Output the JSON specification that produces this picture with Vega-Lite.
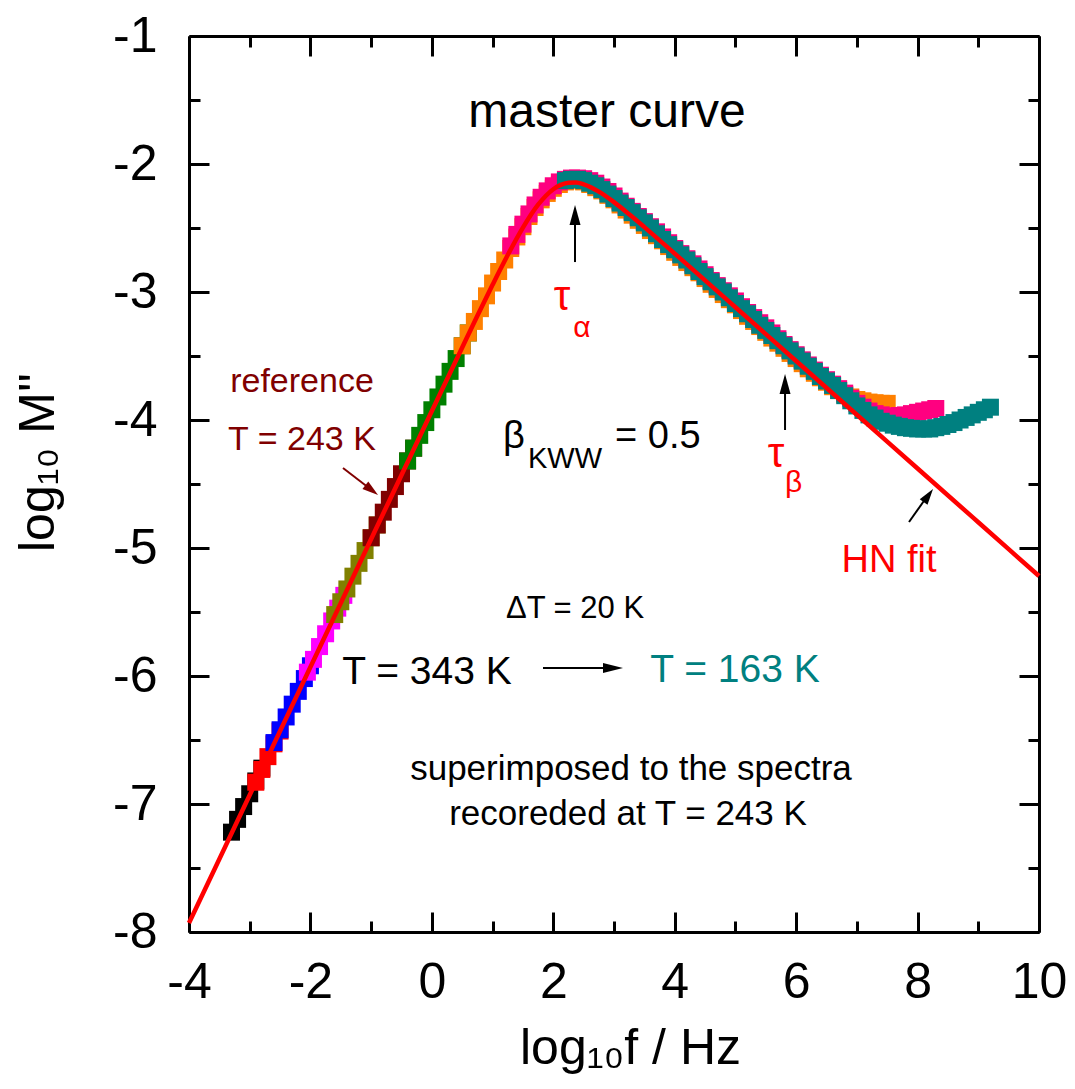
{
  "$schema": "https://vega.github.io/schema/vega-lite/v6.json",
  "width": 850,
  "height": 896,
  "autosize": {"type": "none"},
  "padding": {"left": 189, "top": 36, "right": 36, "bottom": 157},
  "background": "white",
  "config": {
    "view": {"stroke": null},
    "font": "Liberation Sans",
    "axis": {
      "domainColor": "black", "domainWidth": 3, "tickColor": "black", "tickWidth": 3,
      "grid": false, "labelFont": "Liberation Sans", "labelFontSize": 50, "labelColor": "black",
      "titleFont": "Liberation Sans", "titleFontSize": 50, "titleFontWeight": "normal", "titleColor": "black",
      "labelFlush": false, "labelOverlap": false
    }
  },
  "datasets": {
    "pts": [
      {"x": -3.3, "y": -7.22, "T": "343 K"}, {"x": -3.2, "y": -7.12, "T": "343 K"}, {"x": -3.1, "y": -7.02, "T": "343 K"}, {"x": -3.0, "y": -6.92, "T": "343 K"}, {"x": -2.9, "y": -6.82, "T": "343 K"}, {"x": -2.8, "y": -6.72, "T": "343 K"},
      {"x": -2.9, "y": -6.83, "T": "323 K"}, {"x": -2.8, "y": -6.73, "T": "323 K"}, {"x": -2.7, "y": -6.63, "T": "323 K"}, {"x": -2.6, "y": -6.53, "T": "323 K"}, {"x": -2.5, "y": -6.43, "T": "323 K"},
      {"x": -2.6, "y": -6.52, "T": "303 K"}, {"x": -2.5, "y": -6.42, "T": "303 K"}, {"x": -2.4, "y": -6.32, "T": "303 K"}, {"x": -2.3, "y": -6.22, "T": "303 K"}, {"x": -2.2, "y": -6.12, "T": "303 K"}, {"x": -2.1, "y": -6.02, "T": "303 K"}, {"x": -2.0, "y": -5.92, "T": "303 K"},
      {"x": -2.05, "y": -5.97, "T": "283 K"}, {"x": -1.95, "y": -5.87, "T": "283 K"}, {"x": -1.85, "y": -5.77, "T": "283 K"}, {"x": -1.75, "y": -5.67, "T": "283 K"}, {"x": -1.65, "y": -5.57, "T": "283 K"}, {"x": -1.55, "y": -5.47, "T": "283 K"}, {"x": -1.45, "y": -5.37, "T": "283 K"},
      {"x": -1.6, "y": -5.52, "T": "263 K"}, {"x": -1.5, "y": -5.42, "T": "263 K"}, {"x": -1.4, "y": -5.32, "T": "263 K"}, {"x": -1.3, "y": -5.22, "T": "263 K"}, {"x": -1.2, "y": -5.12, "T": "263 K"}, {"x": -1.1, "y": -5.02, "T": "263 K"}, {"x": -1.0, "y": -4.92, "T": "263 K"}, {"x": -0.9, "y": -4.82, "T": "263 K"},
      {"x": -1.0, "y": -4.92, "T": "243 K"}, {"x": -0.9, "y": -4.82, "T": "243 K"}, {"x": -0.8, "y": -4.72, "T": "243 K"}, {"x": -0.7, "y": -4.62, "T": "243 K"}, {"x": -0.6, "y": -4.52, "T": "243 K"}, {"x": -0.5, "y": -4.42, "T": "243 K"}, {"x": -0.4, "y": -4.32, "T": "243 K"}, {"x": -0.3, "y": -4.22, "T": "243 K"},
      {"x": -0.4, "y": -4.32, "T": "223 K"}, {"x": -0.3, "y": -4.22, "T": "223 K"}, {"x": -0.2, "y": -4.12, "T": "223 K"}, {"x": -0.1, "y": -4.02, "T": "223 K"}, {"x": 0.0, "y": -3.92, "T": "223 K"}, {"x": 0.1, "y": -3.82, "T": "223 K"}, {"x": 0.2, "y": -3.72, "T": "223 K"}, {"x": 0.3, "y": -3.62, "T": "223 K"}, {"x": 0.4, "y": -3.52, "T": "223 K"}, {"x": 0.5, "y": -3.42, "T": "223 K"}, {"x": 0.6, "y": -3.32, "T": "223 K"},
      {"x": 0.5, "y": -3.42, "T": "203 K"}, {"x": 0.6, "y": -3.32, "T": "203 K"}, {"x": 0.7, "y": -3.23, "T": "203 K"}, {"x": 0.8, "y": -3.13, "T": "203 K"}, {"x": 0.9, "y": -3.03, "T": "203 K"}, {"x": 1.0, "y": -2.93, "T": "203 K"}, {"x": 1.1, "y": -2.84, "T": "203 K"}, {"x": 1.2, "y": -2.75, "T": "203 K"}, {"x": 1.3, "y": -2.66, "T": "203 K"}, {"x": 1.4, "y": -2.57, "T": "203 K"}, {"x": 1.5, "y": -2.49, "T": "203 K"}, {"x": 1.6, "y": -2.41, "T": "203 K"}, {"x": 1.7, "y": -2.34, "T": "203 K"}, {"x": 1.8, "y": -2.28, "T": "203 K"}, {"x": 1.9, "y": -2.23, "T": "203 K"}, {"x": 2.0, "y": -2.19, "T": "203 K"}, {"x": 2.1, "y": -2.16, "T": "203 K"}, {"x": 2.2, "y": -2.14, "T": "203 K"}, {"x": 2.3, "y": -2.13, "T": "203 K"}, {"x": 2.4, "y": -2.13, "T": "203 K"},
      {"x": 2.5, "y": -2.14, "T": "203 K"}, {"x": 2.6, "y": -2.16, "T": "203 K"}, {"x": 2.7, "y": -2.185, "T": "203 K"}, {"x": 2.8, "y": -2.21, "T": "203 K"}, {"x": 2.9, "y": -2.245, "T": "203 K"}, {"x": 3.0, "y": -2.28, "T": "203 K"}, {"x": 3.1, "y": -2.32, "T": "203 K"}, {"x": 3.2, "y": -2.36, "T": "203 K"}, {"x": 3.3, "y": -2.40, "T": "203 K"}, {"x": 3.4, "y": -2.44, "T": "203 K"}, {"x": 3.5, "y": -2.48, "T": "203 K"}, {"x": 3.6, "y": -2.52, "T": "203 K"}, {"x": 3.7, "y": -2.56, "T": "203 K"}, {"x": 3.8, "y": -2.60, "T": "203 K"}, {"x": 3.9, "y": -2.645, "T": "203 K"}, {"x": 4.0, "y": -2.69, "T": "203 K"}, {"x": 4.1, "y": -2.73, "T": "203 K"}, {"x": 4.2, "y": -2.77, "T": "203 K"}, {"x": 4.3, "y": -2.81, "T": "203 K"}, {"x": 4.4, "y": -2.85, "T": "203 K"}, {"x": 4.5, "y": -2.895, "T": "203 K"}, {"x": 4.6, "y": -2.94, "T": "203 K"}, {"x": 4.7, "y": -2.98, "T": "203 K"}, {"x": 4.8, "y": -3.02, "T": "203 K"}, {"x": 4.9, "y": -3.06, "T": "203 K"}, {"x": 5.0, "y": -3.10, "T": "203 K"}, {"x": 5.1, "y": -3.145, "T": "203 K"}, {"x": 5.2, "y": -3.19, "T": "203 K"}, {"x": 5.3, "y": -3.23, "T": "203 K"}, {"x": 5.4, "y": -3.27, "T": "203 K"}, {"x": 5.5, "y": -3.315, "T": "203 K"}, {"x": 5.6, "y": -3.36, "T": "203 K"}, {"x": 5.7, "y": -3.40, "T": "203 K"}, {"x": 5.8, "y": -3.44, "T": "203 K"}, {"x": 5.9, "y": -3.48, "T": "203 K"}, {"x": 6.0, "y": -3.52, "T": "203 K"}, {"x": 6.1, "y": -3.56, "T": "203 K"}, {"x": 6.2, "y": -3.60, "T": "203 K"}, {"x": 6.3, "y": -3.635, "T": "203 K"}, {"x": 6.4, "y": -3.67, "T": "203 K"}, {"x": 6.5, "y": -3.705, "T": "203 K"}, {"x": 6.6, "y": -3.74, "T": "203 K"}, {"x": 6.7, "y": -3.77, "T": "203 K"}, {"x": 6.8, "y": -3.80, "T": "203 K"}, {"x": 6.9, "y": -3.82, "T": "203 K"}, {"x": 7.0, "y": -3.84, "T": "203 K"}, {"x": 7.1, "y": -3.85, "T": "203 K"}, {"x": 7.2, "y": -3.86, "T": "203 K"}, {"x": 7.3, "y": -3.865, "T": "203 K"}, {"x": 7.4, "y": -3.87, "T": "203 K"}, {"x": 7.5, "y": -3.87, "T": "203 K"},
      {"x": 1.3, "y": -2.64, "T": "183 K"}, {"x": 1.4, "y": -2.55, "T": "183 K"}, {"x": 1.5, "y": -2.47, "T": "183 K"}, {"x": 1.6, "y": -2.39, "T": "183 K"}, {"x": 1.7, "y": -2.32, "T": "183 K"}, {"x": 1.8, "y": -2.26, "T": "183 K"}, {"x": 1.9, "y": -2.21, "T": "183 K"}, {"x": 2.0, "y": -2.17, "T": "183 K"}, {"x": 2.1, "y": -2.14, "T": "183 K"}, {"x": 2.2, "y": -2.12, "T": "183 K"}, {"x": 2.3, "y": -2.11, "T": "183 K"}, {"x": 2.4, "y": -2.11, "T": "183 K"},
      {"x": 2.5, "y": -2.115, "T": "183 K"}, {"x": 2.6, "y": -2.13, "T": "183 K"}, {"x": 2.7, "y": -2.15, "T": "183 K"}, {"x": 2.8, "y": -2.18, "T": "183 K"}, {"x": 2.9, "y": -2.215, "T": "183 K"}, {"x": 3.0, "y": -2.25, "T": "183 K"}, {"x": 3.1, "y": -2.29, "T": "183 K"}, {"x": 3.2, "y": -2.33, "T": "183 K"}, {"x": 3.3, "y": -2.37, "T": "183 K"}, {"x": 3.4, "y": -2.41, "T": "183 K"}, {"x": 3.5, "y": -2.45, "T": "183 K"}, {"x": 3.6, "y": -2.49, "T": "183 K"}, {"x": 3.7, "y": -2.53, "T": "183 K"}, {"x": 3.8, "y": -2.57, "T": "183 K"}, {"x": 3.9, "y": -2.615, "T": "183 K"}, {"x": 4.0, "y": -2.66, "T": "183 K"}, {"x": 4.1, "y": -2.70, "T": "183 K"}, {"x": 4.2, "y": -2.74, "T": "183 K"}, {"x": 4.3, "y": -2.78, "T": "183 K"}, {"x": 4.4, "y": -2.82, "T": "183 K"}, {"x": 4.5, "y": -2.865, "T": "183 K"}, {"x": 4.6, "y": -2.91, "T": "183 K"}, {"x": 4.7, "y": -2.95, "T": "183 K"}, {"x": 4.8, "y": -2.99, "T": "183 K"}, {"x": 4.9, "y": -3.03, "T": "183 K"}, {"x": 5.0, "y": -3.07, "T": "183 K"}, {"x": 5.1, "y": -3.115, "T": "183 K"}, {"x": 5.2, "y": -3.16, "T": "183 K"}, {"x": 5.3, "y": -3.20, "T": "183 K"}, {"x": 5.4, "y": -3.24, "T": "183 K"}, {"x": 5.5, "y": -3.28, "T": "183 K"}, {"x": 5.6, "y": -3.32, "T": "183 K"}, {"x": 5.7, "y": -3.365, "T": "183 K"}, {"x": 5.8, "y": -3.41, "T": "183 K"}, {"x": 5.9, "y": -3.45, "T": "183 K"}, {"x": 6.0, "y": -3.49, "T": "183 K"}, {"x": 6.1, "y": -3.53, "T": "183 K"}, {"x": 6.2, "y": -3.57, "T": "183 K"}, {"x": 6.3, "y": -3.61, "T": "183 K"}, {"x": 6.4, "y": -3.65, "T": "183 K"}, {"x": 6.5, "y": -3.685, "T": "183 K"}, {"x": 6.6, "y": -3.72, "T": "183 K"}, {"x": 6.7, "y": -3.755, "T": "183 K"}, {"x": 6.8, "y": -3.79, "T": "183 K"}, {"x": 6.9, "y": -3.83, "T": "183 K"}, {"x": 7.0, "y": -3.87, "T": "183 K"}, {"x": 7.1, "y": -3.90, "T": "183 K"}, {"x": 7.2, "y": -3.93, "T": "183 K"}, {"x": 7.3, "y": -3.95, "T": "183 K"}, {"x": 7.4, "y": -3.96, "T": "183 K"}, {"x": 7.5, "y": -3.97, "T": "183 K"}, {"x": 7.6, "y": -3.97, "T": "183 K"}, {"x": 7.7, "y": -3.965, "T": "183 K"}, {"x": 7.8, "y": -3.96, "T": "183 K"}, {"x": 7.9, "y": -3.95, "T": "183 K"}, {"x": 8.0, "y": -3.94, "T": "183 K"}, {"x": 8.1, "y": -3.93, "T": "183 K"}, {"x": 8.2, "y": -3.92, "T": "183 K"}, {"x": 8.3, "y": -3.91, "T": "183 K"},
      {"x": 2.2, "y": -2.13, "T": "163 K"}, {"x": 2.3, "y": -2.12, "T": "163 K"}, {"x": 2.4, "y": -2.12, "T": "163 K"}, {"x": 2.5, "y": -2.13, "T": "163 K"}, {"x": 2.6, "y": -2.15, "T": "163 K"}, {"x": 2.7, "y": -2.17, "T": "163 K"}, {"x": 2.8, "y": -2.20, "T": "163 K"}, {"x": 2.9, "y": -2.235, "T": "163 K"}, {"x": 3.0, "y": -2.27, "T": "163 K"}, {"x": 3.1, "y": -2.305, "T": "163 K"}, {"x": 3.2, "y": -2.34, "T": "163 K"}, {"x": 3.3, "y": -2.38, "T": "163 K"}, {"x": 3.4, "y": -2.42, "T": "163 K"}, {"x": 3.5, "y": -2.46, "T": "163 K"}, {"x": 3.6, "y": -2.50, "T": "163 K"}, {"x": 3.7, "y": -2.545, "T": "163 K"}, {"x": 3.8, "y": -2.59, "T": "163 K"}, {"x": 3.9, "y": -2.63, "T": "163 K"}, {"x": 4.0, "y": -2.67, "T": "163 K"}, {"x": 4.1, "y": -2.71, "T": "163 K"}, {"x": 4.2, "y": -2.75, "T": "163 K"}, {"x": 4.3, "y": -2.795, "T": "163 K"}, {"x": 4.4, "y": -2.84, "T": "163 K"}, {"x": 4.5, "y": -2.88, "T": "163 K"}, {"x": 4.6, "y": -2.92, "T": "163 K"}, {"x": 4.7, "y": -2.96, "T": "163 K"}, {"x": 4.8, "y": -3.00, "T": "163 K"}, {"x": 4.9, "y": -3.045, "T": "163 K"}, {"x": 5.0, "y": -3.09, "T": "163 K"}, {"x": 5.1, "y": -3.13, "T": "163 K"}, {"x": 5.2, "y": -3.17, "T": "163 K"}, {"x": 5.3, "y": -3.215, "T": "163 K"}, {"x": 5.4, "y": -3.26, "T": "163 K"}, {"x": 5.5, "y": -3.30, "T": "163 K"}, {"x": 5.6, "y": -3.34, "T": "163 K"}, {"x": 5.7, "y": -3.38, "T": "163 K"}, {"x": 5.8, "y": -3.42, "T": "163 K"}, {"x": 5.9, "y": -3.46, "T": "163 K"}, {"x": 6.0, "y": -3.50, "T": "163 K"}, {"x": 6.1, "y": -3.54, "T": "163 K"}, {"x": 6.2, "y": -3.58, "T": "163 K"}, {"x": 6.3, "y": -3.62, "T": "163 K"}, {"x": 6.4, "y": -3.66, "T": "163 K"}, {"x": 6.5, "y": -3.695, "T": "163 K"}, {"x": 6.6, "y": -3.73, "T": "163 K"}, {"x": 6.7, "y": -3.77, "T": "163 K"}, {"x": 6.8, "y": -3.81, "T": "163 K"}, {"x": 6.9, "y": -3.85, "T": "163 K"}, {"x": 7.0, "y": -3.89, "T": "163 K"}, {"x": 7.1, "y": -3.925, "T": "163 K"}, {"x": 7.2, "y": -3.96, "T": "163 K"}, {"x": 7.3, "y": -3.985, "T": "163 K"}, {"x": 7.4, "y": -4.01, "T": "163 K"}, {"x": 7.5, "y": -4.025, "T": "163 K"}, {"x": 7.6, "y": -4.04, "T": "163 K"}, {"x": 7.7, "y": -4.05, "T": "163 K"}, {"x": 7.8, "y": -4.06, "T": "163 K"}, {"x": 7.9, "y": -4.065, "T": "163 K"}, {"x": 8.0, "y": -4.07, "T": "163 K"}, {"x": 8.1, "y": -4.07, "T": "163 K"}, {"x": 8.2, "y": -4.07, "T": "163 K"}, {"x": 8.3, "y": -4.06, "T": "163 K"}, {"x": 8.4, "y": -4.05, "T": "163 K"}, {"x": 8.5, "y": -4.035, "T": "163 K"}, {"x": 8.6, "y": -4.02, "T": "163 K"}, {"x": 8.7, "y": -4.0, "T": "163 K"}, {"x": 8.8, "y": -3.98, "T": "163 K"}, {"x": 8.9, "y": -3.96, "T": "163 K"}, {"x": 9.0, "y": -3.94, "T": "163 K"}, {"x": 9.1, "y": -3.92, "T": "163 K"}, {"x": 9.2, "y": -3.90, "T": "163 K"}
    ],
    "fit": [
      {"x": -4, "y": -7.93}, {"x": -3, "y": -6.93}, {"x": -2, "y": -5.93}, {"x": -1, "y": -4.93}, {"x": 0, "y": -3.93}, {"x": 0.5, "y": -3.433}, {"x": 0.75, "y": -3.186}, {"x": 1, "y": -2.944}, {"x": 1.25, "y": -2.711}, {"x": 1.5, "y": -2.497}, {"x": 1.75, "y": -2.318}, {"x": 2, "y": -2.197}, {"x": 2.125, "y": -2.163}, {"x": 2.25, "y": -2.146}, {"x": 2.375, "y": -2.145}, {"x": 2.5, "y": -2.159}, {"x": 2.75, "y": -2.216}, {"x": 3, "y": -2.298}, {"x": 3.25, "y": -2.393}, {"x": 3.5, "y": -2.493}, {"x": 4, "y": -2.7}, {"x": 4.5, "y": -2.909}, {"x": 5, "y": -3.119}, {"x": 6, "y": -3.539}, {"x": 7, "y": -3.959}, {"x": 8, "y": -4.379}, {"x": 9, "y": -4.799}, {"x": 10, "y": -5.219}
    ]
  },
  "layer": [
    {
      "layer": [
        {
          "data": {"name": "pts"},
          "mark": {"type": "point", "shape": "square", "filled": true, "size": 289, "opacity": 1, "strokeWidth": 0},
          "encoding": {
            "x": {"field": "x", "type": "quantitative", "scale": {"domain": [-4, 10], "nice": false, "zero": false},
              "axis": {"orient": "bottom", "values": [-4, -3, -2, -1, 0, 1, 2, 3, 4, 5, 6, 7, 8, 9, 10],
                "labelExpr": "abs(datum.value) % 2 == 0 ? '' + datum.value : ''",
                "tickSize": {"condition": {"test": "abs(datum.value) % 2 == 0", "value": -20}, "value": -11},
                "labelPadding": 45.5,
                "title": "log₁₀f / Hz", "titleX": 441, "titleY": 131, "titleBaseline": "alphabetic", "titleAlign": "center"}},
            "y": {"field": "y", "type": "quantitative", "scale": {"domain": [-8, -1], "nice": false, "zero": false},
              "axis": {"orient": "left", "values": [-8, -7.5, -7, -6.5, -6, -5.5, -5, -4.5, -4, -3.5, -3, -2.5, -2, -1.5, -1],
                "labelExpr": "datum.value % 1 == 0 ? '' + datum.value : ''",
                "tickSize": {"condition": {"test": "datum.value % 1 == 0", "value": -20}, "value": -11},
                "labelPadding": 52,
                "title": "log₁₀ M''", "titleX": -136, "titleY": 426, "titleBaseline": "alphabetic", "titleAlign": "center", "titleAngle": -90}},
            "color": {"field": "T", "type": "nominal",
              "scale": {"domain": ["343 K", "323 K", "303 K", "283 K", "263 K", "243 K", "223 K", "203 K", "183 K", "163 K"],
                "range": ["#000000", "#FF0000", "#0000FF", "#FF00FF", "#808000", "#800000", "#008000", "#FF8000", "#FF0080", "#008080"]},
              "legend": null}
          }
        },
        {
          "data": {"name": "fit"},
          "mark": {"type": "line", "color": "#FF0000", "strokeWidth": 4.5, "interpolate": "monotone"},
          "encoding": {"x": {"field": "x", "type": "quantitative"}, "y": {"field": "y", "type": "quantitative"}}
        },
        {
          "data": {"values": [
            {"x": 2.358, "y": -2.766, "x2": 2.358, "y2": -2.42},
            {"x": 5.817, "y": -4.078, "x2": 5.817, "y2": -3.74},
            {"x": 7.859, "y": -4.797, "x2": 8.139, "y2": -4.609},
            {"x": 1.8306, "y": -5.9375, "x2": 2.868, "y2": -5.9375}
          ]},
          "mark": {"type": "rule", "color": "black", "strokeWidth": 2},
          "encoding": {"x": {"field": "x", "type": "quantitative"}, "y": {"field": "y", "type": "quantitative"}, "x2": {"field": "x2"}, "y2": {"field": "y2"}}
        },
        {
          "data": {"values": [{"x": -1.4636, "y": -4.375, "x2": -1.0353, "y2": -4.531}]},
          "mark": {"type": "rule", "color": "#800000", "strokeWidth": 2},
          "encoding": {"x": {"field": "x", "type": "quantitative"}, "y": {"field": "y", "type": "quantitative"}, "x2": {"field": "x2"}, "y2": {"field": "y2"}}
        },
        {
          "data": {"values": [{"x": 2.358, "y": -2.398}, {"x": 5.817, "y": -3.719}]},
          "mark": {"type": "point", "shape": "M0,-1L0.55,1L-0.55,1Z", "size": 400, "filled": true, "color": "black", "opacity": 1, "strokeWidth": 0},
          "encoding": {"x": {"field": "x", "type": "quantitative"}, "y": {"field": "y", "type": "quantitative"}}
        },
        {
          "data": {"values": [{"x": 8.177, "y": -4.59}]},
          "mark": {"type": "point", "shape": "M0,-1L0.6,1L-0.6,1Z", "size": 256, "angle": 36, "filled": true, "color": "black", "opacity": 1, "strokeWidth": 0},
          "encoding": {"x": {"field": "x", "type": "quantitative"}, "y": {"field": "y", "type": "quantitative"}}
        },
        {
          "data": {"values": [{"x": 2.984, "y": -5.9375}]},
          "mark": {"type": "point", "shape": "M0,-1L0.5,1L-0.5,1Z", "size": 400, "angle": 90, "filled": true, "color": "black", "opacity": 1, "strokeWidth": 0},
          "encoding": {"x": {"field": "x", "type": "quantitative"}, "y": {"field": "y", "type": "quantitative"}}
        },
        {
          "data": {"values": [{"x": -0.991, "y": -4.548}]},
          "mark": {"type": "point", "shape": "M0,-1L0.6,1L-0.6,1Z", "size": 256, "angle": 127.7, "filled": true, "color": "#800000", "opacity": 1, "strokeWidth": 0},
          "encoding": {"x": {"field": "x", "type": "quantitative"}, "y": {"field": "y", "type": "quantitative"}}
        },
        {
          "data": {"values": [{"x": 2.885, "y": -1.711, "t": "master curve"}]},
          "mark": {"type": "text", "fontSize": 48, "color": "black", "align": "center", "baseline": "alphabetic", "font": "Liberation Sans"},
          "encoding": {"x": {"field": "x", "type": "quantitative"}, "y": {"field": "y", "type": "quantitative"}, "text": {"field": "t"}}
        },
        {
          "data": {"values": [{"x": 2.144, "y": -3.141, "t": "τ"}, {"x": 5.668, "y": -4.367, "t": "τ"}]},
          "mark": {"type": "text", "fontSize": 42, "color": "#FF0000", "align": "center", "baseline": "alphabetic", "font": "Liberation Sans"},
          "encoding": {"x": {"field": "x", "type": "quantitative"}, "y": {"field": "y", "type": "quantitative"}, "text": {"field": "t"}}
        },
        {
          "data": {"values": [{"x": 2.473, "y": -3.352, "t": "α"}, {"x": 5.957, "y": -4.5625, "t": "β"}]},
          "mark": {"type": "text", "fontSize": 30, "color": "#FF0000", "align": "center", "baseline": "alphabetic", "font": "Liberation Sans"},
          "encoding": {"x": {"field": "x", "type": "quantitative"}, "y": {"field": "y", "type": "quantitative"}, "text": {"field": "t"}}
        },
        {
          "data": {"values": [{"x": -2.139, "y": -3.781, "t": "reference"}, {"x": -2.139, "y": -4.234, "t": "T = 243 K"}]},
          "mark": {"type": "text", "fontSize": 34, "color": "#800000", "align": "center", "baseline": "alphabetic", "font": "Liberation Sans"},
          "encoding": {"x": {"field": "x", "type": "quantitative"}, "y": {"field": "y", "type": "quantitative"}, "text": {"field": "t"}}
        },
        {
          "data": {"values": [{"x": 1.172, "y": -4.219, "t": "β"}, {"x": 3.017, "y": -4.219, "t": "= 0.5"}]},
          "mark": {"type": "text", "fontSize": 38, "color": "black", "align": "left", "baseline": "alphabetic", "font": "Liberation Sans"},
          "encoding": {"x": {"field": "x", "type": "quantitative"}, "y": {"field": "y", "type": "quantitative"}, "text": {"field": "t"}}
        },
        {
          "data": {"values": [{"x": 1.584, "y": -4.375, "t": "KWW"}]},
          "mark": {"type": "text", "fontSize": 29, "color": "black", "align": "left", "baseline": "alphabetic", "font": "Liberation Sans"},
          "encoding": {"x": {"field": "x", "type": "quantitative"}, "y": {"field": "y", "type": "quantitative"}, "text": {"field": "t"}}
        },
        {
          "data": {"values": [{"x": 7.53, "y": -5.1875, "t": "HN fit"}]},
          "mark": {"type": "text", "fontSize": 38, "color": "#FF0000", "align": "center", "baseline": "alphabetic", "font": "Liberation Sans"},
          "encoding": {"x": {"field": "x", "type": "quantitative"}, "y": {"field": "y", "type": "quantitative"}, "text": {"field": "t"}}
        },
        {
          "data": {"values": [{"x": 2.358, "y": -5.547, "t": "ΔT = 20 K"}]},
          "mark": {"type": "text", "fontSize": 31, "color": "black", "align": "center", "baseline": "alphabetic", "font": "Liberation Sans"},
          "encoding": {"x": {"field": "x", "type": "quantitative"}, "y": {"field": "y", "type": "quantitative"}, "text": {"field": "t"}}
        },
        {
          "data": {"values": [{"x": -0.08, "y": -6.0625, "t": "T = 343 K"}]},
          "mark": {"type": "text", "fontSize": 39, "color": "black", "align": "center", "baseline": "alphabetic", "font": "Liberation Sans"},
          "encoding": {"x": {"field": "x", "type": "quantitative"}, "y": {"field": "y", "type": "quantitative"}, "text": {"field": "t"}}
        },
        {
          "data": {"values": [{"x": 4.993, "y": -6.047, "t": "T = 163 K"}]},
          "mark": {"type": "text", "fontSize": 39, "color": "#008080", "align": "center", "baseline": "alphabetic", "font": "Liberation Sans"},
          "encoding": {"x": {"field": "x", "type": "quantitative"}, "y": {"field": "y", "type": "quantitative"}, "text": {"field": "t"}}
        },
        {
          "data": {"values": [{"x": 3.28, "y": -6.8125, "t": "superimposed to the spectra"}, {"x": 3.231, "y": -7.164, "t": "recoreded at T = 243 K"}]},
          "mark": {"type": "text", "fontSize": 35, "color": "black", "align": "center", "baseline": "alphabetic", "font": "Liberation Sans"},
          "encoding": {"x": {"field": "x", "type": "quantitative"}, "y": {"field": "y", "type": "quantitative"}, "text": {"field": "t"}}
        }
      ]
    },
    {
      "data": {"values": [{"x": 0, "y": -5}]},
      "mark": {"type": "point", "opacity": 0},
      "encoding": {
        "x": {"field": "x", "type": "quantitative", "scale": {"domain": [-4, 10], "nice": false, "zero": false},
          "axis": {"orient": "top", "values": [-4, -3, -2, -1, 0, 1, 2, 3, 4, 5, 6, 7, 8, 9, 10], "labels": false, "title": null,
            "tickSize": {"condition": {"test": "abs(datum.value) % 2 == 0", "value": -20}, "value": -11}}},
        "y": {"field": "y", "type": "quantitative", "scale": {"domain": [-8, -1], "nice": false, "zero": false},
          "axis": {"orient": "right", "values": [-8, -7.5, -7, -6.5, -6, -5.5, -5, -4.5, -4, -3.5, -3, -2.5, -2, -1.5, -1], "labels": false, "title": null,
            "tickSize": {"condition": {"test": "datum.value % 1 == 0", "value": -20}, "value": -11}}}
      }
    }
  ],
  "resolve": {"axis": {"x": "independent", "y": "independent"}}
}
